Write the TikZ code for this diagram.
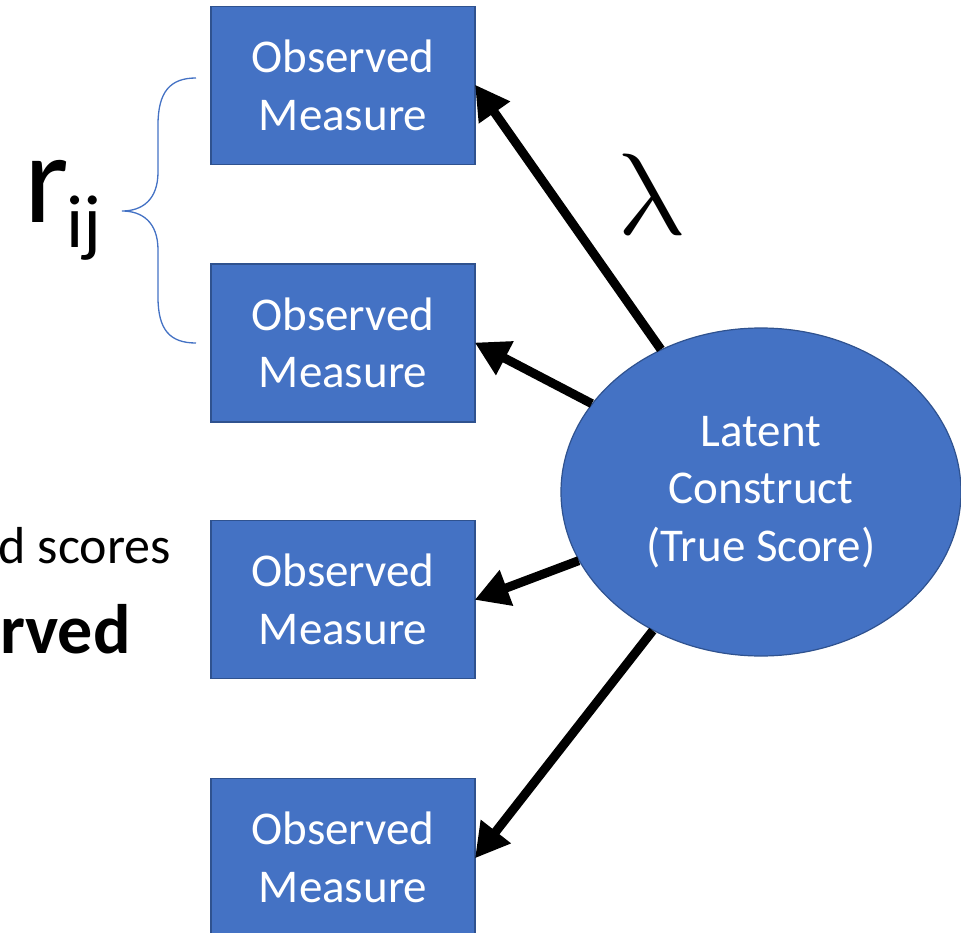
\documentclass[tikz,border=0pt]{standalone}
\usepackage{fontspec}
\setmainfont{Carlito}
\usetikzlibrary{arrows.meta,shapes.geometric}
\definecolor{boxblue}{HTML}{4472C4}
\definecolor{edgeblue}{HTML}{2F528F}

\begin{document}
\begin{tikzpicture}[x=1pt,y=-1pt,
  measure/.style={draw=edgeblue, line width=1.2pt, fill=boxblue, text=white,
    minimum width=264pt, minimum height=158pt, align=center, inner sep=0pt,
    font=\fontsize{47}{57.5}\selectfont},
  latent/.style={ellipse, draw=edgeblue, line width=1.2pt, fill=boxblue, text=white,
    minimum width=400pt, minimum height=328pt, align=center, inner sep=0pt,
    font=\fontsize{47}{57.5}\selectfont},
  load/.style={-{Triangle[length=34pt,width=36pt]}, line width=9pt, shorten >=-1pt},
  brace/.style={draw=boxblue, line width=1.3pt},
  sidetext/.style={inner sep=0pt, anchor=base east}]

\useasboundingbox (0,0) rectangle (961,933);

% indicators
\node[measure] (m1) at (343,85.5) {Observed\\Measure};
\node[measure] (m2) at (343,343) {Observed\\Measure};
\node[measure] (m3) at (343,599.5) {Observed\\Measure};
\node[measure] (m4) at (343,857.5) {Observed\\Measure};

% latent factor
\node[latent] (lat) at (761,492) {Latent\\Construct\\(True Score)};

% loadings
\foreach \m in {m1,m2,m3,m4}
  \draw[load] (lat) -- (\m.east);

% loading symbol, set upright
\node[inner sep=0pt, xslant=-0.2, scale=11.6] (lam) at (644,194) {$\lambda$};

% correlation between two indicators
\draw[brace] (196,78) .. controls (170,78) and (158,92) .. (158,125) -- (158,172)
  .. controls (158,200) and (142,211) .. (122,211)
  .. controls (142,211) and (158,222) .. (158,250) -- (158,297)
  .. controls (158,330) and (170,343) .. (196,343);

\node[inner sep=0pt, anchor=base west, font=\fontsize{128}{128}\selectfont] (rnode) at (24,223) {r};
\node[inner sep=0pt, anchor=base west, font=\fontsize{75}{75}\selectfont] (ijnode) at (66,248) {ij};

% text at the left margin
\node[sidetext, font=\fontsize{52}{52}\selectfont] (scores) at (171,563) {d scores};
\node[sidetext, font=\bfseries\fontsize{70}{70}\selectfont] (rved) at (131,653) {rved};
\end{tikzpicture}
\end{document}
